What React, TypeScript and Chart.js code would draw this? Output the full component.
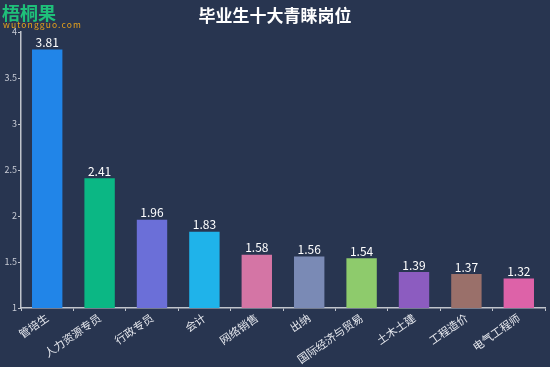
import React, { useEffect, useRef } from "react";
import { Chart, registerables } from "chart.js";

Chart.register(...registerables);

const categories = ["管培生", "人力资源专员", "行政专员", "会计", "网络销售", "出纳", "国际经济与贸易", "土木土建", "工程造价", "电气工程师"];
const values = [3.81, 2.41, 1.96, 1.83, 1.58, 1.56, 1.54, 1.39, 1.37, 1.32];
const barColors = ["#2185e8", "#0bb784", "#6b6fd8", "#1fb3ea", "#d475a5", "#7a8ab5", "#8ecb6c", "#8c5cc0", "#9a706a", "#dd62a8"];
const title = "毕业生十大青睐岗位";
const yMin = 1;
const yMax = 4;
const yStep = 0.5;

const BG = "#283550";
const FONT = "'Noto Sans CJK SC', 'Noto Sans', sans-serif";

const labelPlugin = {
  id: "valueLabels",
  afterDatasetsDraw(chart: any) {
    const ctx = chart.ctx;
    const meta = chart.getDatasetMeta(0);
    ctx.save();
    ctx.fillStyle = "#ffffff";
    ctx.font = `12px ${FONT}`;
    ctx.textAlign = "center";
    ctx.textBaseline = "bottom";
    meta.data.forEach((el: any, i: number) => {
      ctx.fillText(values[i].toFixed(2), el.x, el.y - 1);
    });
    ctx.restore();
  },
};

const bgPlugin = {
  id: "bg",
  beforeDraw(chart: any) {
    const ctx = chart.ctx;
    ctx.save();
    ctx.fillStyle = BG;
    ctx.fillRect(0, 0, chart.width, chart.height);
    ctx.restore();
  },
};

export default function App() {
  const ref = useRef<HTMLCanvasElement>(null);
  useEffect(() => {
    document.body.style.margin = "0";
    const chart = new Chart(ref.current!, {
      type: "bar",
      data: {
        labels: categories,
        datasets: [
          {
            data: values,
            backgroundColor: barColors,
            borderWidth: 0,
            barPercentage: 0.58,
            categoryPercentage: 1,
          },
        ],
      },
      options: {
        animation: false,
        responsive: false,
        layout: { padding: { top: 32, right: 5, left: 0, bottom: 0 } },
        plugins: { legend: { display: false }, tooltip: { enabled: false } },
        scales: {
          x: {
            offset: true,
            grid: { display: true, drawOnChartArea: false, color: "#c0c4cc", tickLength: 3, offset: true },
            border: { color: "#c0c4cc", width: 1.5 },
            ticks: {
              color: "#e6e8ee",
              font: { size: 11, family: FONT },
              maxRotation: 35,
              minRotation: 35,
              autoSkip: false,
              padding: 0,
            },
            afterFit(scale: any) {
              scale.height = 59;
            },
          },
          y: {
            min: yMin,
            max: yMax,
            grid: { display: true, drawOnChartArea: false, color: "#c0c4cc", tickLength: 3 },
            border: { color: "#c0c4cc", width: 1.5 },
            ticks: {
              stepSize: yStep,
              color: "#c8ccd6",
              font: { size: 9, family: FONT },
              padding: 1,
              callback: (v: any) => String(v),
            },
            afterFit(scale: any) {
              scale.width = 21;
            },
          },
        },
      },
      plugins: [bgPlugin, labelPlugin],
    });
    return () => chart.destroy();
  }, []);

  return (
    <div style={{ position: "fixed", left: 0, top: 0, width: 550, height: 367, background: BG, fontFamily: FONT }}>
      <canvas ref={ref} width={550} height={367} style={{ display: "block" }} />
      <div style={{ position: "absolute", left: 0, width: 550, top: 2, textAlign: "center", color: "#ffffff", fontWeight: "bold", fontSize: 17, lineHeight: "26px", pointerEvents: "none" }}>
        {title}
      </div>
      <div style={{ position: "absolute", left: 2, top: 0, color: "#1fc07a", fontWeight: "bold", fontSize: 18, lineHeight: "24px", letterSpacing: 0 }}>
        梧桐果
      </div>
      <div style={{ position: "absolute", left: 3, top: 19, color: "#e8a21a", fontSize: 8.5, lineHeight: "10px", letterSpacing: 1.1 }}>
        wutongguo.com
      </div>
    </div>
  );
}
